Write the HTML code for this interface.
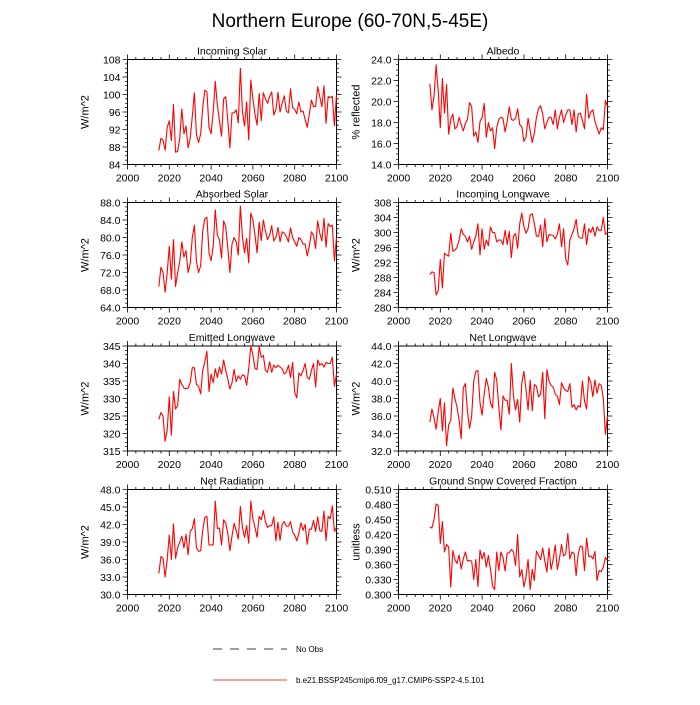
<!DOCTYPE html>
<html><head><meta charset="utf-8"><style>
html,body{margin:0;padding:0;background:#fff}
svg text{font-family:"Liberation Sans",sans-serif;fill:#000}
</style></head><body>
<svg id="chart" width="700" height="700" viewBox="0 0 700 700" xmlns="http://www.w3.org/2000/svg">
<text x="350" y="27" font-size="19" text-anchor="middle">Northern Europe (60-70N,5-45E)</text>
<g>
<line x1="213" y1="649" x2="287" y2="649" stroke="#000" stroke-width="0.8" stroke-dasharray="9,8"/>
<text x="296" y="652" font-size="8">No Obs</text>
<line x1="213" y1="680" x2="287" y2="680" stroke="#ff0000" stroke-width="0.8"/>
<text x="296" y="683" font-size="8">b.e21.BSSP245cmip6.f09_g17.CMIP6-SSP2-4.5.101</text>
</g>
</svg>
<script>
const startYear = 2015;
const xTicks = [2000,2020,2040,2060,2080,2100];
const incomingSolar = [87.2,90,89.5,87.3,92.5,94,89.5,97.7,86.8,87,90,96.7,91,92.8,87.8,90,95,100.4,90.8,89,91,97,101,100.6,92.5,91,96,103,97.5,94,90.5,99,99.5,94,87.8,95.8,95.8,96.5,93.5,106,96,92.8,98.3,89.6,103.3,99,95.5,93,100.2,94,100.4,99,98,99.5,100.6,95.3,96.5,100.5,96,98,99.7,96.2,95.8,101.3,97,96.6,95.6,98.3,96,96.2,94.3,92.5,95.5,98.7,97.2,97.3,101.8,99.5,97.2,102,93.4,99.5,99.3,99.6,92.8,100];
const albedo = [21.7,19.2,20.5,23.5,21.0,17.5,22.2,18.9,21.6,16.9,18.3,18.8,17.4,17.6,18.5,17.8,17.2,17.9,18.3,19.9,19.5,16.7,17.1,16.1,18.1,18.5,19.8,16.6,18.0,17.2,17.5,15.5,17.5,18.3,18.5,18.4,17.1,18.1,19.5,18.3,18.2,18.4,19.3,17.8,17.6,16.2,16.6,18.4,17.2,16.1,17.0,18.5,19.3,19.6,18.8,17.4,18.0,18.5,18.5,17.8,19.2,17.4,18.5,19.2,18.0,18.7,19.2,19.2,17.8,19.2,17.1,18.8,18.9,18.2,17.4,20.7,18.4,19.0,19.2,18.1,17.5,16.9,17.5,17.3,20.1,19.5];
const absorbedSolar = [68.8,73.2,72,67.5,72,78,70.5,79.5,68.8,72,74.5,79,75.5,77,72,74,80,82.8,74.5,72,73.5,81.5,84.3,84.6,76.5,74.7,78,86.3,80.5,79.5,75.3,83.8,82.5,77.5,72,78.5,80,79,76,87.2,80,76.5,79.8,74.2,85.6,84,80.5,76.5,83.5,79.3,84,81.5,79.5,80.5,82.7,79.2,80,82.3,79,81.3,81,80.2,79,82.2,80,79,78,80,79.5,78.5,78.5,75.8,78,81.3,80.5,77.5,83.8,81,79.2,84.4,77.8,83.2,82.5,82.8,74.7,80];
const incomingLW = [288.8,289.5,289.3,283.3,284.5,292.8,285.2,294.5,294,293.7,299.8,295,295.3,296,298,301,299.5,299,297.5,299,295.5,297.5,299,302.3,294,301,295.5,298,296.5,301.5,300,300,297.5,298,298,296.8,300.6,296.8,300.3,293.3,299,299.7,295.8,302.3,305.2,301.5,299.8,301,304.7,305,302.5,299,299,302,296.2,303.7,297.5,299.5,299.3,299.2,298.3,299.5,302.3,296.2,301,293,291.3,298,299.5,301,303.5,299,298.5,298.5,302.3,296.8,301,300,301.5,299,301.5,300.5,300.5,304,299.5,300];
const emittedLW = [324,326,325,317.8,321,330.5,319.5,332,327,328,335.5,334,333,332.8,333,334.5,338.8,338.8,334,333.5,331.3,338,340.5,343.5,332,337,334.5,338.5,336,339,337,341,338,335.5,332.7,334.5,338.3,334.8,336.5,335.5,336.8,336.5,333.8,338.5,345,342.5,338.5,338.3,344.8,341.8,342.3,338,337.5,340.5,337.5,339.5,338.8,339.5,339,338.5,337,337.5,339.5,336,340.3,331.8,330.2,337.3,336.5,338,340,336,335.5,338,340,333.3,341,339.5,340,339,340.3,340,340,341.8,333.5,337];
const netLW = [35.3,36.8,35.8,34.5,36.5,38,34.3,37.5,32.6,35,35.5,39.2,38,37,35.5,33.4,39.2,39.7,36.5,34.6,36,40,41.1,41.2,37.5,36.1,38.5,40.3,39.3,37.5,36.9,41,40.1,37,34.4,38.3,37.8,37.8,36.2,42,38.3,36.7,37.9,35.3,39.8,41.1,39,36.7,40.1,36.6,39.6,39.4,38.2,38.5,41,35.7,41.3,40,39.5,39.3,38.5,38.3,37.3,39.8,39.2,38.9,38.8,39.7,37,37.3,36.7,37.2,37,40,37.7,36.8,40.5,39.8,38.2,40.1,38.6,39.7,39.5,38,33.9,36];
const netRad = [33.6,36.5,36.2,33,36,40.2,36,42.1,36.2,38,39,40,38,40.3,36.8,40.8,41.3,43,38,37.4,37.5,41,43.2,43.4,38.5,38.5,38.5,46,41.3,41.4,38.5,42.8,42.2,40.5,37.5,40,42.2,41,39.5,45.1,41.5,39.8,41.8,38.8,46,43,41.5,39.8,43.4,42.8,44.4,42.5,41.5,41.8,41.8,43.3,39.2,42.4,39.3,42,42.5,41.7,41.7,42.5,40.7,40.2,39.2,40.5,42.3,41,42,38.6,41.2,41.2,42.7,40.8,43.3,41,40.8,44.3,39.2,43.4,43,45.2,40.8,41.5];
const snowFrac = [.435,.433,.450,.481,.478,.402,.446,.385,.400,.395,.315,.388,.370,.362,.379,.351,.371,.385,.367,.368,.367,.330,.370,.316,.389,.371,.384,.355,.378,.351,.317,.310,.385,.348,.385,.374,.347,.383,.383,.390,.386,.358,.420,.335,.350,.315,.335,.370,.310,.350,.328,.387,.378,.370,.393,.367,.345,.393,.350,.370,.399,.350,.371,.400,.377,.381,.422,.371,.385,.382,.338,.382,.397,.395,.348,.413,.376,.377,.371,.386,.328,.348,.346,.355,.374,.368];

const panels = [
 {name:'incoming-solar',title:'Incoming Solar',ylab:'W/m^2',data:incomingSolar,y0:84,y1:108,step:4,dec:0,col:0,row:0},
 {name:'albedo',title:'Albedo',ylab:'% reflected',data:albedo,y0:14,y1:24,step:2,dec:1,col:1,row:0},
 {name:'absorbed-solar',title:'Absorbed Solar',ylab:'W/m^2',data:absorbedSolar,y0:64,y1:88,step:4,dec:1,col:0,row:1},
 {name:'incoming-longwave',title:'Incoming Longwave',ylab:'W/m^2',data:incomingLW,y0:280,y1:308,step:4,dec:0,col:1,row:1},
 {name:'emitted-longwave',title:'Emitted Longwave',ylab:'W/m^2',data:emittedLW,y0:315,y1:345,step:5,dec:0,col:0,row:2},
 {name:'net-longwave',title:'Net Longwave',ylab:'W/m^2',data:netLW,y0:32,y1:44,step:2,dec:1,col:1,row:2},
 {name:'net-radiation',title:'Net Radiation',ylab:'W/m^2',data:netRad,y0:30,y1:48,step:3,dec:1,col:0,row:3},
 {name:'snow-fraction',title:'Ground Snow Covered Fraction',ylab:'unitless',data:snowFrac,y0:0.3,y1:0.51,step:0.03,dec:3,col:1,row:3}
];
const svg = document.getElementById('chart');
const NS = 'http://www.w3.org/2000/svg';
function mk(tag, attrs, parent){const e=document.createElementNS(NS,tag);for(const k in attrs)e.setAttribute(k,attrs[k]);parent.appendChild(e);return e;}
const colX=[127.5,398.5], rowY=[59.5,202.5,346,489.5], W=209, H=105;
panels.forEach(p=>{
  const L=colX[p.col], T=rowY[p.row], R=L+W, B=T+H;
  const g=mk('g',{},svg);
  
  
  const xs=v=>L+(v-2000)/100*W;
  const ys=v=>B-(v-p.y0)/(p.y1-p.y0)*H;
  let d='';
  for(let yr=2000;yr<=2100;yr+=4){const big=yr%20===0, x=xs(yr), len=big?5:2.5;d+=`M${x},${B}v${len}M${x},${T}v${-len}`;}
  const n=Math.round((p.y1-p.y0)/p.step);
  for(let i=0;i<=n*4;i++){const v=p.y0+i*p.step/4, y=ys(v), len=i%4===0?5:2.5;d+=`M${L},${y}h${-len}M${R},${y}h${len}`;}
  mk('path',{d:d,stroke:'#000','stroke-width':0.8,fill:'none'},g);
  const box=mk('rect',{x:L,y:T,width:W,height:H,fill:'none',stroke:'#000','stroke-width':1},g);
  
  
  xTicks.forEach(t=>{const tx=mk('text',{x:xs(t),y:B+17,'font-size':10.5,'text-anchor':'middle'},g);tx.textContent=t;
    
    });
  for(let i=0;i<=n;i++){const v=p.y0+i*p.step;const tx=mk('text',{x:L-7,y:ys(v)+4,'font-size':10.5,'text-anchor':'end'},g);tx.textContent=v.toFixed(p.dec);
    
    }
  const tt=mk('text',{x:L+W/2,y:T-5,'font-size':10.5,'text-anchor':'middle'},g);tt.textContent=p.title;
  
  
  const lx=L-39, ly=T+H/2;
  const yl=mk('text',{x:lx,y:ly,'font-size':11,'text-anchor':'middle',transform:`rotate(-90 ${lx} ${ly})`},g);yl.textContent=p.ylab;
  
  
  const pts=p.data.map((v,i)=>xs(startYear+i).toFixed(2)+','+ys(v).toFixed(2)).join(' ');
  const ln=mk('polyline',{points:pts,fill:'none',stroke:'#ff0000','stroke-width':1.1,'stroke-linejoin':'round'},g);
  
  
});
</script>
</body></html>
